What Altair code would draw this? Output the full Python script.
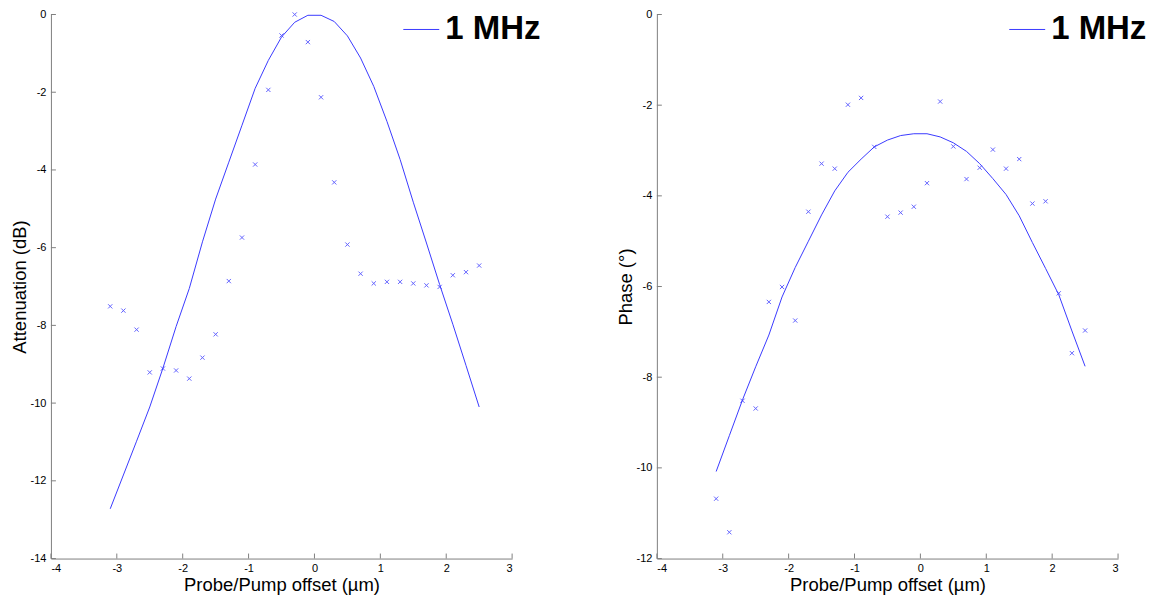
import altair as alt
import pandas as pd

# ---------------- data ----------------
x_vals = [-3.1, -2.9, -2.7, -2.5, -2.3, -2.1, -1.9, -1.7, -1.5, -1.3, -1.1, -0.9, -0.7, -0.5, -0.3,
          -0.1, 0.1, 0.3, 0.5, 0.7, 0.9, 1.1, 1.3, 1.5, 1.7, 1.9, 2.1, 2.3, 2.5]

att_meas = [-7.51, -7.62, -8.11, -9.21, -9.11, -9.16, -9.37, -8.83, -8.23, -6.86, -5.74, -3.86,
            -1.94, -0.54, 0.0, -0.71, -2.13, -4.32, -5.92, -6.67, -6.92, -6.88, -6.88, -6.92,
            -6.97, -7.01, -6.71, -6.63, -6.46]
att_fit = [-12.72, -11.85, -10.98, -10.10, -9.10, -8.03, -7.05, -5.85, -4.75, -3.80, -2.85, -1.90,
           -1.18, -0.58, -0.20, -0.02, -0.02, -0.18, -0.55, -1.12, -1.85, -2.75, -3.73, -4.83,
           -5.88, -6.95, -7.97, -9.03, -10.10]

phase_meas = [-10.68, -11.42, -8.52, -8.69, -6.34, -6.01, -6.75, -4.35, -3.29, -3.40, -1.99, -1.84,
              -2.92, -4.46, -4.37, -4.24, -3.72, -1.92, -2.91, -3.63, -3.38, -2.98, -3.40, -3.19,
              -4.17, -4.12, -6.15, -7.47, -6.97]
phase_fit = [-10.08, -9.29, -8.50, -7.77, -7.07, -6.23, -5.58, -5.00, -4.42, -3.89, -3.48, -3.19,
             -2.92, -2.77, -2.67, -2.63, -2.63, -2.70, -2.83, -3.02, -3.29, -3.62, -3.97, -4.44,
             -5.03, -5.60, -6.18, -6.98, -7.76]

x_ticks = [-4, -3, -2, -1, 0, 1, 2, 3]
att_ticks = [0, -2, -4, -6, -8, -10, -12, -14]
phase_ticks = [0, -2, -4, -6, -8, -10, -12]
legend_label = ["1 MHz"]
x_title = "Probe/Pump offset (µm)"
att_title = "Attenuation (dB)"
phase_title = "Phase (°)"

FONT = "Liberation Sans"
AXIS_GREY = "#808080"
LINE_BLUE = "#3a3aff"
H = 545


def panel(meas, fit, ydomain, yticks, ytitle, w):
    df = pd.DataFrame({"x": x_vals, "meas": meas, "fit": fit})
    xs = alt.Scale(domain=[-4, 3], nice=False, zero=False)
    ys = alt.Scale(domain=ydomain, nice=False, zero=False)
    common = dict(grid=False, tickSize=0, domainColor=AXIS_GREY, domainWidth=1,
                  labelFont=FONT, labelFontSize=11, labelColor="#000000",
                  titleFont=FONT, titleFontSize=18.5, titleFontWeight="normal",
                  titleColor="#000000", labelExpr="toString(datum.value)")
    xaxis = alt.Axis(values=x_ticks, title=x_title, labelPadding=4, titlePadding=2, **common)
    yaxis = alt.Axis(values=yticks, title=ytitle, labelPadding=5, titlePadding=1, **common)

    line = alt.Chart(df).mark_line(color=LINE_BLUE, strokeWidth=1).encode(
        x=alt.X("x:Q", scale=xs, axis=xaxis),
        y=alt.Y("fit:Q", scale=ys, axis=yaxis),
    )
    pts = alt.Chart(df).mark_point(
        shape="M-1,-1L1,1M-1,1L1,-1", size=18, color="#3030ff", strokeWidth=1, opacity=0.75
    ).encode(
        x=alt.X("x:Q", scale=xs, axis=xaxis),
        y=alt.Y("meas:Q", scale=ys, axis=yaxis),
    )
    xt = alt.Chart(pd.DataFrame({"t": x_ticks})).mark_rule(color=AXIS_GREY).encode(
        x=alt.X("t:Q", scale=xs, axis=xaxis),
        y=alt.value(H - 5), y2=alt.value(H),
    )
    yt = alt.Chart(pd.DataFrame({"t": yticks})).mark_rule(color=AXIS_GREY).encode(
        y=alt.Y("t:Q", scale=ys, axis=yaxis),
        x=alt.value(0), x2=alt.value(5),
    )
    ldf = pd.DataFrame({"label": legend_label})
    leg_line = alt.Chart(ldf).mark_rule(color=LINE_BLUE, strokeWidth=1).encode(
        x=alt.value(353), x2=alt.value(389), y=alt.value(15),
    )
    leg_text = alt.Chart(ldf).mark_text(
        align="left", baseline="alphabetic", font=FONT, fontSize=33, fontWeight="bold", color="#000000"
    ).encode(text="label:N", x=alt.value(395), y=alt.value(25))
    return alt.layer(line, pts, xt, yt, leg_line, leg_text).properties(width=w, height=H)


left = panel(att_meas, att_fit, [-14, 0], att_ticks, att_title, 462)
right = panel(phase_meas, phase_fit, [-12, 0], phase_ticks, phase_title, 462)

chart = alt.hconcat(left, right, spacing=75).properties(
    padding={"left": 2, "top": 0, "right": 0, "bottom": 0}
).configure(
    background="white", view=alt.ViewConfig(stroke="transparent", strokeWidth=0)
)

chart.save("out.html", embed_options={"renderer": "svg", "actions": False})
